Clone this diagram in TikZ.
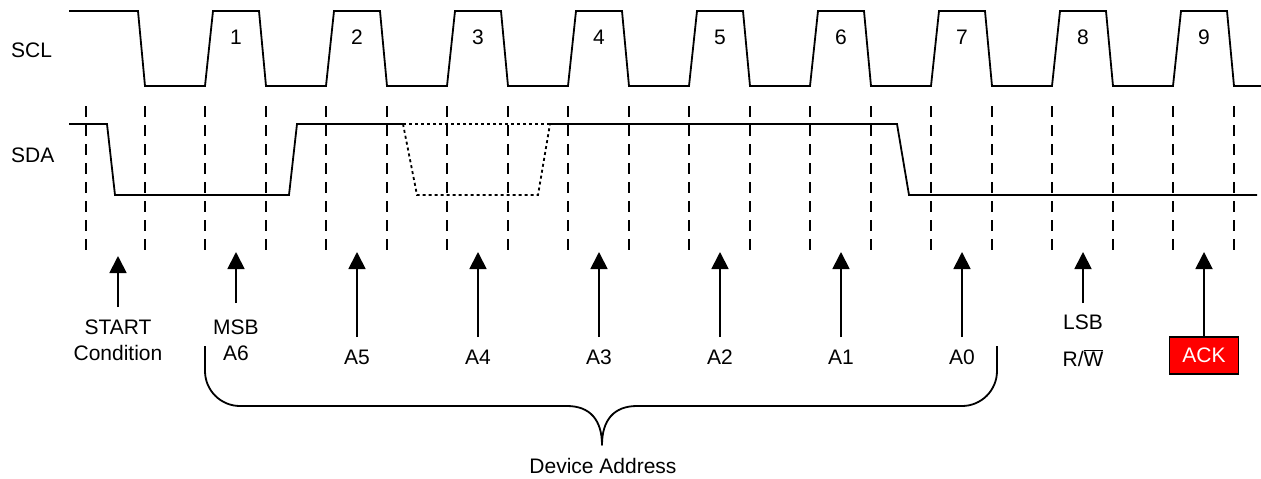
\documentclass[tikz,border=0pt]{standalone}
\usepackage{fontspec}
\setmainfont{Liberation Sans}
\usetikzlibrary{arrows.meta}
\begin{document}
\begin{tikzpicture}[x=1pt,y=-1pt,
  sig/.style={line width=1.8pt, line join=miter},
  grid/.style={line width=1.8pt, dash pattern=on 11pt off 8pt},
  dots/.style={line width=1.8pt, dash pattern=on 3pt off 3pt},
  arr/.style={line width=1.8pt, -{Triangle[width=17pt,length=17pt]}},
  lbl/.style={font=\fontsize{21}{25}\selectfont, inner sep=0pt},
  txt/.style={font=\fontsize{21}{25}\selectfont, inner sep=0pt, align=center}]
\useasboundingbox (0,0) rectangle (1261,479);
% labels
\node[lbl, anchor=west] (scl) at (11,50) {SCL};
\node[lbl, anchor=west] (sda) at (11,155) {SDA};
% SCL waveform
\draw[sig] (69,11) -- (138,11) -- (145,86)
  foreach \k in {0,...,8} { -- ({205+121*\k},86) -- ({213+121*\k},11) -- ({259+121*\k},11) -- ({266+121*\k},86) }
  -- (1261,86);
% pulse numbers
\foreach \k in {1,...,9} { \node[lbl] (n\k) at ({236+121*(\k-1)},37) {\k}; }
% dashed guides
\draw[grid] (86,106) -- (86,256);
\foreach \k in {0,...,9} { \draw[grid] ({145+121*\k},106) -- ({145+121*\k},256); }
\foreach \k in {0,...,8} { \draw[grid] ({205+121*\k},106) -- ({205+121*\k},256); }
% SDA waveform
\draw[sig] (69,124) -- (107,124) -- (115,195) -- (289,195) -- (297,124) -- (403,124);
\draw[dots] (403,124) -- (550,124);
\draw[dots] (403,124) -- (417,195) -- (538,195) -- (550,124);
\draw[sig] (550,124) -- (897,124) -- (909,195) -- (1257,195);
% arrows and texts
\node[txt] (start) at (118,340) {START\\[1pt]Condition};
\coordinate (sb) at (118,307); \coordinate (st) at (118,256);
\draw[arr] (sb) -- (st);
\node[txt] (msb) at (236,340) {MSB\\[1pt]A6};
\coordinate (mb) at (236,303); \coordinate (mt) at (236,252);
\draw[arr] (mb) -- (mt);
\foreach \i/\name in {1/A5,2/A4,3/A3,4/A2,5/A1,6/A0} {
  \node[lbl] (a\i) at ({236+121*\i},357) {\name};
  \coordinate (ab\i) at ({236+121*\i},337);
  \coordinate (at\i) at ({236+121*\i},252);
  \draw[arr] (ab\i) -- (at\i);
}
\node[lbl] (lsb) at (1083,322) {LSB};
\node[lbl] (rw) at (1083,358) {R/$\overline{\mbox{W}}$};
\coordinate (lb) at (1083,303); \coordinate (lt) at (1083,252);
\draw[arr] (lb) -- (lt);
\node[draw=black, line width=1.8pt, fill=red, text=white, font=\fontsize{21}{25}\selectfont,
  minimum width=69pt, minimum height=37pt, inner sep=0pt] (ack) at (1204,355.5) {ACK};
\coordinate (kt) at (1204,252);
\draw[arr] (ack.north) -- (kt);
% brace
\coordinate (bl) at (205,346); \coordinate (br) at (997,346); \coordinate (bm) at (602,445);
\draw[sig, line join=round] (bl) -- (205,371) arc[start angle=180, end angle=90, radius=35] -- (567,406)
  .. controls (590,406) and (602,420) .. (bm)
  .. controls (602,420) and (614,406) .. (637,406) -- (962,406)
  arc[start angle=90, end angle=0, radius=35] -- (br);
\node[lbl] (dev) at (603,466) {Device Address};
\end{tikzpicture}
\end{document}
